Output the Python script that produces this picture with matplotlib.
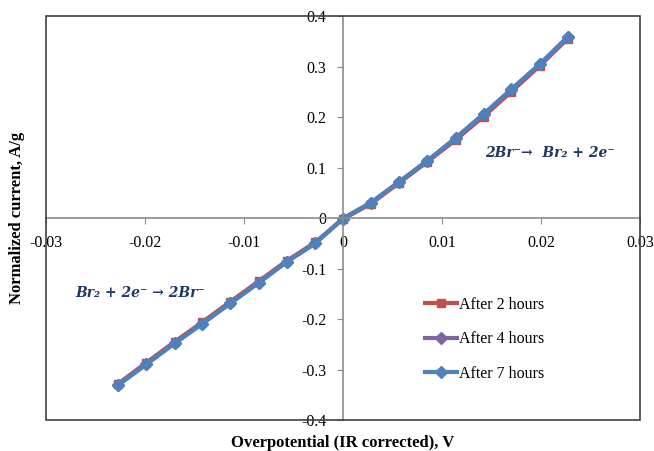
import matplotlib
matplotlib.use("Agg")
import matplotlib.pyplot as plt
from matplotlib.patches import Rectangle

# Data
overpotential = [-0.0227, -0.0199, -0.017, -0.0142, -0.0114, -0.0085, -0.0057, -0.0028,
                 0.0, 0.0028, 0.0057, 0.0085, 0.0114, 0.0142, 0.017, 0.0199, 0.0227]
current_2h = [-0.328, -0.287, -0.245, -0.206, -0.166, -0.125, -0.085, -0.048,
              -0.002, 0.028, 0.070, 0.111, 0.155, 0.201, 0.250, 0.302, 0.355]
current_4h = [-0.330, -0.290, -0.248, -0.209, -0.169, -0.128, -0.087, -0.050,
              -0.001, 0.030, 0.072, 0.113, 0.158, 0.205, 0.254, 0.305, 0.358]
current_7h = [-0.331, -0.290, -0.248, -0.209, -0.169, -0.128, -0.087, -0.050,
              -0.001, 0.030, 0.072, 0.113, 0.159, 0.206, 0.255, 0.305, 0.359]
labels = ["After 2 hours", "After 4 hours", "After 7 hours"]
x_ticks = [-0.03, -0.02, -0.01, 0, 0.01, 0.02, 0.03]
y_ticks = [-0.4, -0.3, -0.2, -0.1, 0, 0.1, 0.2, 0.3, 0.4]

plt.rcParams['font.family'] = ['Liberation Serif', 'DejaVu Serif']

fig = plt.figure(figsize=(6.54, 4.51), dpi=100)
ax = fig.add_axes([0.0703, 0.0687, 0.9083, 0.8958])

ax.plot(overpotential, current_2h, color="#c0504d", marker="s", markersize=6, lw=3, label=labels[0])
ax.plot(overpotential, current_4h, color="#8064a2", marker="D", markersize=6, lw=3, label=labels[1])
ax.plot(overpotential, current_7h, color="#4f81bd", marker="D", markersize=6, lw=3, label=labels[2])

ax.set_xlim(-0.03, 0.03)
ax.set_ylim(-0.4, 0.4)
ax.set_xticks(x_ticks)
ax.set_yticks(y_ticks)
ax.set_xticklabels(["-0.03", "-0.02", "-0.01", "0", "0.01", "0.02", "0.03"])
ax.set_yticklabels(["-0.4", "-0.3", "-0.2", "-0.1", "0", "0.1", "0.2", "0.3", "0.4"])

# axes crossing at zero
ax.spines['left'].set_position('zero')
ax.spines['bottom'].set_position('zero')
ax.spines['top'].set_visible(False)
ax.spines['right'].set_visible(False)
for s in ['left', 'bottom']:
    ax.spines[s].set_color("#8c8c8c")
    ax.spines[s].set_linewidth(1.2)
ax.tick_params(axis='both', direction='out', length=4, color="#8c8c8c", labelsize=11.5)
ax.tick_params(axis='x', pad=8)
ax.tick_params(axis='y', pad=8)

# outer frame
ax.add_patch(Rectangle((0, 0), 1, 1, transform=ax.transAxes, fill=False,
                       edgecolor="#404040", lw=1.2, clip_on=False, zorder=5))

ax.set_xlabel("Overpotential (IR corrected), V", fontsize=12, fontweight="bold")
ax.xaxis.set_label_coords(0.5, -0.038)
ax.set_ylabel("Normalized current, A/g", fontsize=12, fontweight="bold")
ax.yaxis.set_label_coords(-0.035, 0.5)

# reaction annotations
ax.text(0.0209, 0.129, "2Br\u207b\u2192  Br\u2082 + 2e\u207b", fontsize=10, color="#1f3864",
        fontweight="bold", fontstyle="italic", family="DejaVu Serif", ha="center", va="center")
ax.text(-0.0205, -0.149, "Br\u2082 + 2e\u207b \u2192 2Br\u207b", fontsize=10, color="#1f3864",
        fontweight="bold", fontstyle="italic", family="DejaVu Serif", ha="center", va="center")

ax.legend(loc="upper left", bbox_to_anchor=(0.614, 0.34), frameon=False, fontsize=11.5,
          labelspacing=1.15, handlelength=2.0, handletextpad=0.1)

plt.savefig("out.png", dpi=100)
